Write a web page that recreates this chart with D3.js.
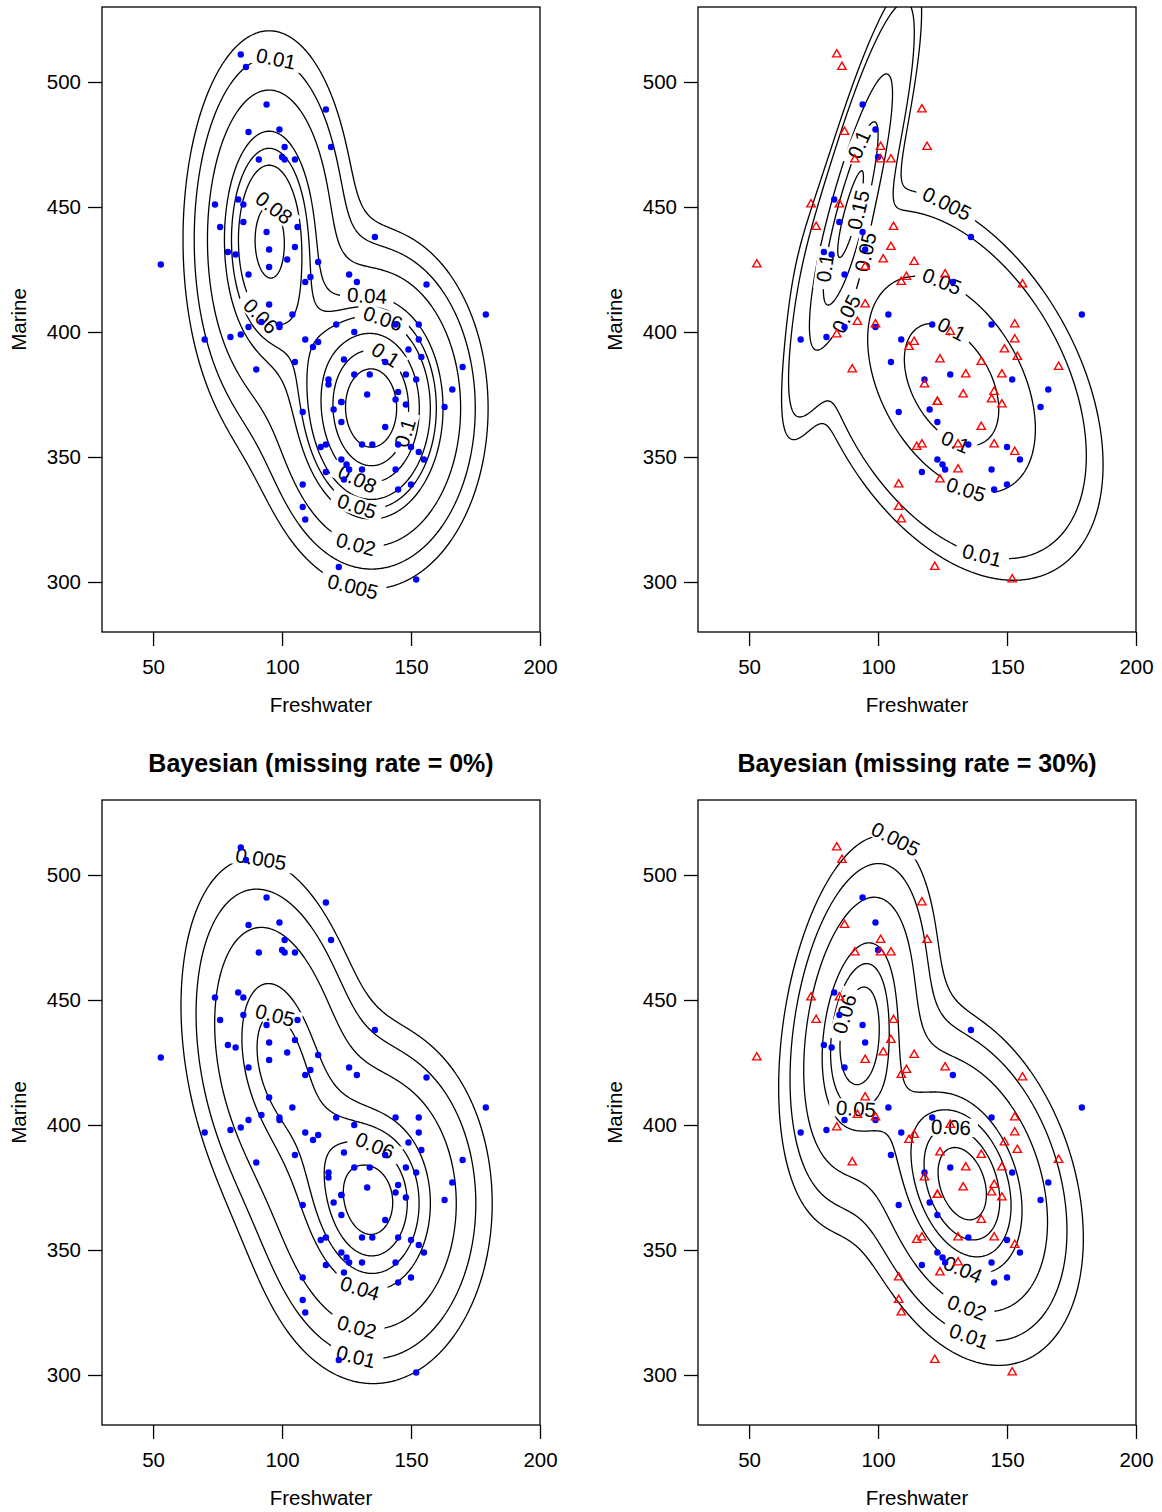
<!DOCTYPE html>
<html>
<head>
<meta charset="utf-8">
<script src="https://cdnjs.cloudflare.com/ajax/libs/d3/7.8.5/d3.min.js"></script>
<style>
  body { margin: 0; background: #fff; }
  svg text { font-family: "Liberation Sans", Arial, Helvetica, sans-serif; }
</style>
</head>
<body>
<script>
/*
    Salmon growth-ring data (freshwater vs marine).
    missing30 marks the rows drawn as red triangles in the 30% panels.
*/
var freshwater = [84, 86, 94, 117, 87, 99, 119, 101, 91, 100, 101, 105, 74, 83, 85, 76, 85, 94, 106, 95,
    105, 79, 82, 102, 95, 53, 114, 136, 87, 126, 129, 111, 109, 156, 179, 95, 92, 104, 99, 99,
    121, 144, 153, 153, 128, 87, 84, 80, 70, 109, 114, 112, 105, 90, 149, 154, 170, 140, 124, 118,
    118, 128, 134, 148, 152, 166, 163, 133, 123, 123, 120, 123, 108, 145, 144, 148, 140, 131, 135, 115,
    117, 145, 150, 153, 155, 123, 125, 126, 131, 117, 144, 124, 108, 145, 150, 108, 109, 122, 152];
var marine = [511, 506, 491, 489, 480, 481, 474, 474, 469, 470, 469, 469, 451, 453, 451, 442, 444, 440, 442, 433,
    434, 432, 431, 429, 426, 427, 428, 438, 423, 423, 420, 422, 420, 419, 407, 411, 404, 407, 403, 402,
    403, 403, 403, 397, 400, 402, 399, 398, 397, 397, 396, 394, 388, 385, 393, 390, 386, 388, 389, 381,
    379, 383, 383, 383, 381, 377, 370, 375, 372, 372, 369, 364, 368, 376, 373, 371, 362, 355, 355, 354,
    355, 355, 354, 352, 349, 349, 347, 345, 345, 344, 345, 341, 339, 337, 339, 330, 325, 306, 301];
var missing30 = [1, 1, 0, 1, 1, 0, 1, 1, 1, 0, 1, 1, 1, 0, 1, 1, 0, 0, 1, 0,
    1, 0, 0, 1, 1, 1, 1, 0, 0, 1, 0, 1, 1, 1, 0, 1, 1, 0, 1, 0,
    0, 0, 1, 1, 1, 0, 1, 0, 0, 0, 1, 1, 0, 1, 1, 1, 1, 1, 1, 0,
    1, 0, 1, 1, 0, 0, 0, 1, 1, 1, 0, 0, 0, 1, 1, 1, 1, 1, 0, 1,
    1, 1, 0, 1, 0, 0, 0, 0, 1, 0, 0, 1, 1, 0, 0, 1, 1, 1, 1];

var panelTitles = ["", "", "Bayesian (missing rate = 0%)", "Bayesian (missing rate = 30%)"];
var showMissing = [false, true, false, true];
var xTicks = [50, 100, 150, 200];
var yTicks = [300, 350, 400, 450, 500];

/*
    Two-component normal mixture fitted in each panel: means, sds,
    correlation and the height of each component at its mean.
*/
var mixMeanX = [[95, 134.7], [90, 128.5], [98, 135.5], [92.3, 132.7]];
var mixMeanY = [[437, 369.5], [450, 379], [428, 368.6], [438.5, 376.5]];
var mixSdX = [[14, 17.5], [10.2, 22.8], [17, 19.8], [13.5, 20]];
var mixSdY = [[35, 28], [34.8, 30.4], [36, 31], [34, 31]];
var mixRho = [[0, 0], [0.85, -0.41], [-0.25, 0], [0.3, -0.3]];
var mixHeight = [[0.086, 0.14], [0.161, 0.138], [0.0546, 0.074], [0.066, 0.078]];

var levels = [
    [0.005, 0.01, 0.02, 0.04, 0.05, 0.06, 0.08, 0.1, 0.12],
    [0.005, 0.01, 0.05, 0.1, 0.15],
    [0.005, 0.01, 0.02, 0.04, 0.05, 0.06, 0.07],
    [0.005, 0.01, 0.02, 0.04, 0.05, 0.06, 0.07]
];

// contour labels: level and the spot (data units) where it sits
var labelLevel = [
    [0.01, 0.08, 0.06, 0.04, 0.06, 0.1, 0.1, 0.08, 0.05, 0.02, 0.005],
    [0.005, 0.1, 0.15, 0.05, 0.1, 0.05, 0.05, 0.1, 0.1, 0.05, 0.01],
    [0.005, 0.05, 0.06, 0.04, 0.02, 0.01],
    [0.005, 0.06, 0.05, 0.06, 0.04, 0.02, 0.01]
];
var labelX = [
    [96.9, 96.6, 94, 132.8, 138, 136.7, 145.7, 131.5, 130.2, 128.9, 127.6],
    [127.6, 94.7, 90.2, 96.6, 81.1, 86.3, 124.4, 127.6, 131.5, 134.7, 140.5],
    [92.7, 97.9, 135.4, 130.9, 129.5, 128.9],
    [104.6, 89.8, 91.7, 128.5, 133, 134.3, 135]
];
var labelY = [
    [505.6, 449.5, 408.8, 414.1, 401.5, 385.5, 360.1, 346.1, 333.5, 315.5, 297.7],
    [453.5, 474.1, 449.5, 431.5, 425.5, 408.1, 418.8, 399.5, 359.5, 338.8, 311.5],
    [510.9, 448.8, 390.5, 336.6, 321, 308.5],
    [510.2, 443.7, 409.7, 400.1, 342.5, 326.2, 314.4]
];

var w = 1162;
var h = 1512;
var plotW = 438;
var plotH = 625;
var panelLeft = [102, 698, 102, 698];
var panelTop = [7, 7, 800, 800];
var fontSize = 20.5;

function density(p, x, y){
    var s = 0;
    for (var k = 0; k < mixMeanX[p].length; k++){
        var zx = (x - mixMeanX[p][k]) / mixSdX[p][k];
        var zy = (y - mixMeanY[p][k]) / mixSdY[p][k];
        var r = mixRho[p][k];
        var q = (zx * zx - 2 * r * zx * zy + zy * zy) / (1 - r * r);
        s += mixHeight[p][k] * Math.exp(-q / 2);
    }
    return s;
}

var svg = d3.select("body")
    .append("svg")
    .attr("width", w)
    .attr("height", h);

var defs = svg.append("defs");

function drawPanel(p){
    var L = panelLeft[p], T = panelTop[p];
    var xScale = d3.scaleLinear().domain([30.2, 200]).range([L, L + plotW]);
    var yScale = d3.scaleLinear().domain([280, 530]).range([T + plotH, T]);

    var g = svg.append("g");

    /* density on a pixel grid a bit larger than the box, then contours */
    var pad = 60, step = 1;
    var gx0 = L - pad, gy0 = T - pad;
    var nx = Math.ceil((plotW + 2 * pad) / step) + 1;
    var ny = Math.ceil((plotH + 2 * pad) / step) + 1;
    var values = new Float64Array(nx * ny);
    for (var j = 0; j < ny; j++){
        for (var i = 0; i < nx; i++){
            values[j * nx + i] = density(p, xScale.invert(gx0 + i * step), yScale.invert(gy0 + j * step));
        }
    }
    var contours = d3.contours().size([nx, ny]).thresholds(levels[p])(values);

    var ringsByLevel = {};
    contours.forEach(function(c){
        var rings = [];
        c.coordinates.forEach(function(poly){
            poly.forEach(function(ring){
                rings.push(ring.map(function(pt){
                    return [gx0 + (pt[0] - 0.5) * step, gy0 + (pt[1] - 0.5) * step];
                }));
            });
        });
        ringsByLevel[c.value] = rings;
    });

    defs.append("clipPath")
        .attr("id", "clip" + p)
        .append("rect")
        .attr("x", L).attr("y", T)
        .attr("width", plotW).attr("height", plotH);

    var mask = defs.append("mask")
        .attr("id", "mask" + p)
        .attr("maskUnits", "userSpaceOnUse")
        .attr("x", 0).attr("y", 0)
        .attr("width", w).attr("height", h);
    mask.append("rect")
        .attr("x", 0).attr("y", 0)
        .attr("width", w).attr("height", h)
        .attr("fill", "white");

    var lines = g.append("g")
        .attr("clip-path", "url(#clip" + p + ")")
        .append("g")
        .attr("mask", "url(#mask" + p + ")");

    levels[p].forEach(function(lv){
        (ringsByLevel[lv] || []).forEach(function(ring){
            lines.append("path")
                .attr("d", "M" + ring.map(function(pt){ return pt[0].toFixed(2) + "," + pt[1].toFixed(2); }).join("L") + "Z")
                .attr("fill", "none")
                .attr("stroke", "black")
                .attr("stroke-width", 1.3);
        });
    });

    /* contour labels, placed on the nearest point of their level and turned along it */
    var labels = g.append("g");
    labelLevel[p].forEach(function(lv, li){
        var ax = xScale(labelX[p][li]), ay = yScale(labelY[p][li]);
        var best = null, bestD = Infinity;
        (ringsByLevel[lv] || []).forEach(function(ring){
            ring.forEach(function(pt, k){
                var d = (pt[0] - ax) * (pt[0] - ax) + (pt[1] - ay) * (pt[1] - ay);
                if (d < bestD){ bestD = d; best = { ring: ring, k: k }; }
            });
        });
        if (!best) return;
        var n = best.ring.length;
        var p0 = best.ring[(best.k - 5 + n) % n];
        var p1 = best.ring[(best.k + 5) % n];
        var pc = best.ring[best.k];
        var ang = Math.atan2(p1[1] - p0[1], p1[0] - p0[0]) * 180 / Math.PI;
        if (ang > 90) ang -= 180;
        if (ang <= -90) ang += 180;

        var t = labels.append("text")
            .attr("transform", "translate(" + pc[0] + "," + pc[1] + ") rotate(" + ang + ")")
            .attr("text-anchor", "middle")
            .attr("dy", "0.35em")
            .attr("font-size", fontSize)
            .attr("fill", "black")
            .text(String(lv));
        var tw = t.node().getComputedTextLength();
        mask.append("rect")
            .attr("x", -tw / 2 - 7)
            .attr("y", -fontSize * 0.45)
            .attr("width", tw + 14)
            .attr("height", fontSize * 0.9)
            .attr("fill", "black")
            .attr("transform", "translate(" + pc[0] + "," + pc[1] + ") rotate(" + ang + ")");
    });

    /* points */
    var idx = d3.range(freshwater.length);
    g.selectAll("circle")
        .data(idx.filter(function(i){ return !(showMissing[p] && missing30[i]); }))
        .enter()
        .append("circle")
        .attr("cx", function(i){ return xScale(freshwater[i]); })
        .attr("cy", function(i){ return yScale(marine[i]); })
        .attr("r", 3.2)
        .style("fill", "#0000ff");

    if (showMissing[p]){
        g.selectAll("path.miss")
            .data(idx.filter(function(i){ return missing30[i]; }))
            .enter()
            .append("path")
            .attr("class", "miss")
            .attr("d", d3.symbol(d3.symbolTriangle, 30))
            .attr("transform", function(i){
                return "translate(" + xScale(freshwater[i]) + "," + yScale(marine[i]) + ")";
            })
            .attr("fill", "none")
            .attr("stroke", "#ff0000")
            .attr("stroke-width", 1.4);
    }

    /* box and axes */
    g.append("rect")
        .attr("x", L).attr("y", T)
        .attr("width", plotW).attr("height", plotH)
        .attr("fill", "none")
        .attr("stroke", "black")
        .attr("stroke-width", 1.3);

    var xAxis = g.append("g")
        .attr("transform", "translate(0," + (T + plotH) + ")")
        .call(d3.axisBottom(xScale).tickValues(xTicks).tickSize(14).tickSizeOuter(0).tickPadding(13));
    var yAxis = g.append("g")
        .attr("transform", "translate(" + L + ",0)")
        .call(d3.axisLeft(yScale).tickValues(yTicks).tickSize(14).tickSizeOuter(0).tickPadding(7));
    [xAxis, yAxis].forEach(function(a){
        a.select(".domain").remove();
        a.attr("font-family", null).attr("font-size", null);
        a.selectAll("line").attr("stroke", "black").attr("stroke-width", 1.3);
        a.selectAll("text").attr("font-size", fontSize).attr("fill", "black");
    });

    g.append("text")
        .attr("x", L + plotW / 2)
        .attr("y", T + plotH + 80)
        .attr("text-anchor", "middle")
        .attr("font-size", fontSize)
        .text("Freshwater");

    g.append("text")
        .attr("transform", "translate(" + (L - 76) + "," + (T + plotH / 2) + ") rotate(-90)")
        .attr("text-anchor", "middle")
        .attr("font-size", fontSize)
        .text("Marine");

    if (panelTitles[p]){
        g.append("text")
            .attr("x", L + plotW / 2)
            .attr("y", T - 28)
            .attr("text-anchor", "middle")
            .attr("font-size", 25)
            .attr("font-weight", "bold")
            .text(panelTitles[p]);
    }
}

for (var p = 0; p < 4; p++){
    drawPanel(p);
}
</script>
</body>
</html>
